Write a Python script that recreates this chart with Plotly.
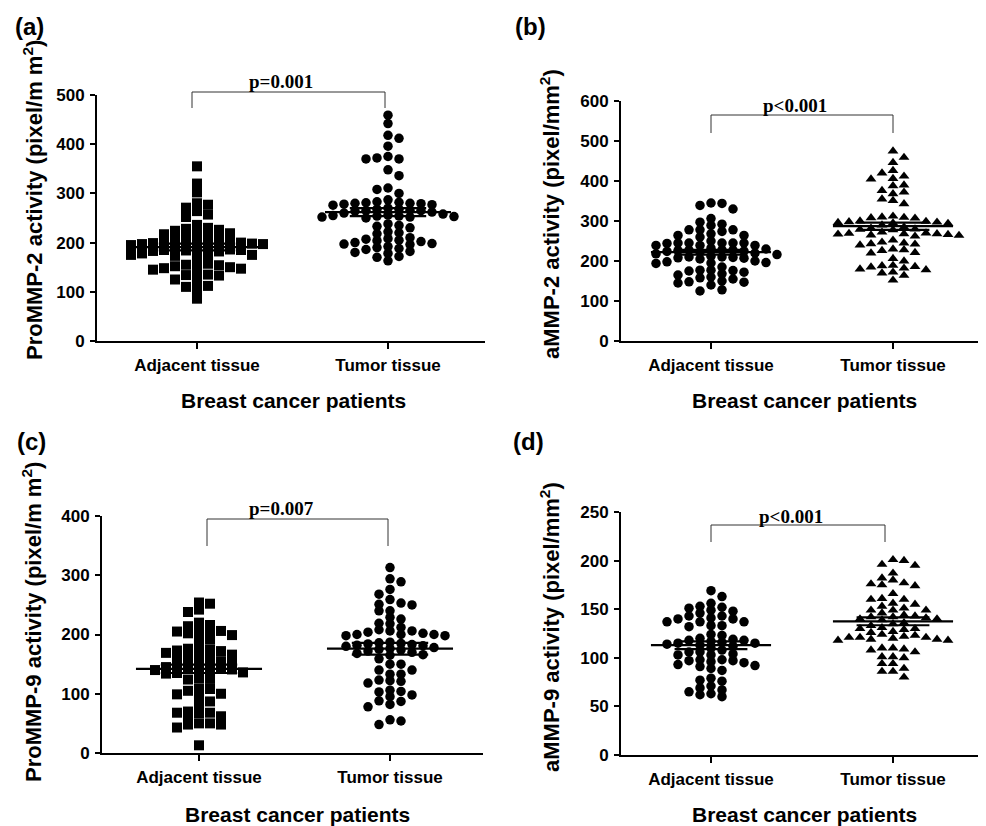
import plotly.graph_objects as go

# target picture size and page offset (browser body margin)
W_REF, H_REF = 986, 826
OFF = 8
W, H = W_REF - OFF, H_REF - OFF

# ---------------- data ----------------
categories = ["Adjacent tissue", "Tumor tissue"]
panel_labels = ["(a)", "(b)", "(c)", "(d)"]
y_titles = [
    "ProMMP-2 activity (pixel/m m<sup>2</sup>)",
    "aMMP-2 activity (pixel/mm<sup>2</sup>)",
    "ProMMP-9 activity (pixel/m m<sup>2</sup>)",
    "aMMP-9 activity (pixel/mm<sup>2</sup>)",
]
x_title = "Breast cancer patients"
p_labels = ["p=0.001", "p<0.001", "p=0.007", "p<0.001"]
y_max = [500, 600, 400, 250]
y_dtick = [100, 100, 100, 50]

a_adjacent = [355, 320, 302, 280, 277, 271, 264, 257, 252, 236, 230, 228, 226, 224, 220,
              219, 217, 216, 212, 210, 208, 206, 204, 202, 200, 200, 199, 198, 198, 197,
              197, 196, 195, 190, 188, 187, 186, 185, 185, 184, 183, 182, 178, 176, 175,
              175, 174, 173, 160, 157, 155, 154, 152, 150, 148, 147, 146, 145, 135, 134,
              133, 130, 125, 115, 112, 110, 100, 86]
a_tumor = [459, 442, 418, 412, 396, 375, 372, 370, 370, 348, 336, 311, 308, 300, 287,
           283, 282, 281, 280, 280, 279, 278, 277, 276, 270, 268, 268, 266, 265, 265,
           264, 262, 260, 258, 256, 255, 254, 254, 253, 252, 252, 250, 238, 235, 233,
           230, 222, 220, 218, 210, 208, 207, 205, 204, 202, 200, 198, 197, 196, 192,
           190, 188, 186, 182, 180, 178, 172, 170, 163]
b_adjacent = [345, 344, 339, 330, 306, 297, 292, 289, 278, 278, 278, 274, 268, 264, 264,
              260, 250, 245, 245, 245, 245, 245, 244, 239, 239, 239, 232, 230, 228, 227,
              227, 226, 225, 224, 222, 220, 218, 216, 212, 210, 210, 209, 208, 207, 205,
              200, 198, 196, 195, 194, 185, 177, 177, 176, 175, 172, 168, 165, 160, 158,
              155, 150, 148, 147, 145, 140, 128, 125]
b_tumor = [475, 459, 446, 426, 420, 412, 406, 405, 390, 388, 376, 372, 368, 355, 351,
           343, 312, 310, 309, 308, 307, 300, 299, 298, 297, 296, 295, 294, 290, 285,
           282, 280, 279, 278, 272, 270, 269, 268, 268, 267, 266, 265, 264, 262, 252,
           247, 245, 243, 242, 240, 230, 228, 226, 221, 220, 206, 200, 189, 188, 186,
           185, 182, 180, 178, 172, 170, 164, 152]
c_adjacent = [254, 252, 242, 238, 220, 216, 214, 207, 206, 205, 205, 202, 199, 196, 192,
              185, 176, 175, 174, 173, 172, 169, 166, 165, 162, 162, 160, 155, 154, 152,
              150, 148, 146, 145, 143, 142, 141, 140, 138, 137, 136, 135, 134, 126, 125,
              124, 109, 108, 105, 100, 99, 94, 87, 78, 70, 68, 68, 67, 62, 59, 50, 50, 48,
              48, 43, 13]
c_tumor = [313, 294, 289, 276, 268, 259, 253, 251, 250, 240, 240, 229, 226, 219, 218,
           212, 208, 206, 206, 204, 202, 200, 200, 200, 198, 198, 187, 186, 185, 184,
           183, 182, 181, 180, 178, 176, 175, 174, 172, 170, 168, 166, 165, 159, 150,
           150, 140, 140, 133, 133, 123, 122, 121, 118, 106, 104, 103, 98, 95, 88, 87,
           82, 78, 56, 54, 48]
d_adjacent = [169, 163, 156, 153, 152, 151, 149, 148, 146, 143, 143, 141, 140, 140, 137,
              137, 137, 133, 133, 132, 124, 123, 120, 119, 118, 118, 117, 116, 115, 115,
              114, 113, 112, 110, 108, 106, 106, 104, 103, 103, 98, 98, 97, 97, 96, 95,
              93, 92, 91, 89, 87, 79, 77, 76, 71, 69, 67, 65, 63, 62, 60]
d_tumor = [201, 200, 196, 195, 187, 182, 180, 177, 176, 175, 174, 166, 161, 160, 160,
           156, 155, 153, 151, 149, 149, 149, 146, 144, 143, 142, 142, 141, 140, 140,
           139, 136, 135, 133, 131, 130, 130, 129, 127, 126, 124, 123, 122, 121, 121,
           121, 120, 119, 119, 118, 118, 110, 110, 109, 108, 106, 101, 101, 100, 94, 94,
           89, 86, 86, 80]

# group means and SEM (horizontal bars)
a_means, a_sems = [191, 262], [7, 8]
b_means, b_sems = [222, 287], [6, 9]
c_means, c_sems = [142, 176], [7, 10]
d_means, d_sems = [113, 137.5], [4, 4]

panel_data = [
    (a_adjacent, a_tumor, a_means, a_sems, "square", "circle"),
    (b_adjacent, b_tumor, b_means, b_sems, "circle", "triangle-up"),
    (c_adjacent, c_tumor, c_means, c_sems, "square", "circle"),
    (d_adjacent, d_tumor, d_means, d_sems, "circle", "triangle-up"),
]

# ---------------- layout geometry (pixels in the reference picture) ----------------
geom = [
    dict(L=97, R=485, c0=197, c1=388, top=95, bot=341,
         lab=(29, 26), yt=(33, 200), xt=(293, 400),
         br=(192, 385, 92, 108), pt=(281, 81)),
    dict(L=621, R=985, c0=711, c1=893, top=101, bot=341,
         lab=(530, 26), yt=(550, 214), xt=(804, 400),
         br=(711, 893, 115, 133), pt=(795, 105)),
    dict(L=102, R=483, c0=199, c1=390, top=516, bot=753,
         lab=(31, 442), yt=(32, 622), xt=(297, 814),
         br=(207, 388, 519, 546), pt=(281, 508)),
    dict(L=621, R=985, c0=711, c1=893, top=512, bot=755,
         lab=(528, 442), yt=(550, 627), xt=(804, 814),
         br=(711, 885, 525, 542), pt=(791, 516)),
]

FONT = "Liberation Sans, Arial, sans-serif"
SERIF = "Liberation Serif, Times New Roman, serif"


def px(x):
    return (x - OFF) / W


def py(y):
    return 1 - (y - OFF) / H


def swarm(values, ppx, ppy, spacing_px=11.0, min_dy=6.5):
    order = sorted(range(len(values)), key=lambda i: -values[i])
    cols = {}
    offs = [0.0] * len(values)
    flip = 1
    for i in order:
        ypx = values[i] * ppy
        step = 0
        chosen = None
        while chosen is None:
            cands = [0] if step == 0 else [flip * step, -flip * step]
            for c in cands:
                if all(abs(ypx - q) >= min_dy for q in cols.get(c, [])):
                    chosen = c
                    break
            step += 1
        if chosen != 0:
            flip = -1 if chosen > 0 else 1
        cols.setdefault(chosen, []).append(ypx)
        offs[i] = chosen * spacing_px / ppx
    return offs


fig = go.Figure()
annotations = []
shapes = []

for k, (g, (adj, tum, means, sems, sym0, sym1)) in enumerate(zip(geom, panel_data)):
    n = "" if k == 0 else str(k + 1)
    xa, ya = "x" + n, "y" + n
    ppx = g["c1"] - g["c0"]
    ppy = (g["bot"] - g["top"]) / y_max[k]
    xr = [(g["L"] - g["c0"]) / ppx, (g["R"] - g["c0"]) / ppx]

    for ci, (vals, sym) in enumerate([(adj, sym0), (tum, sym1)]):
        offs = swarm(vals, ppx, ppy)
        msize = 10 if sym == "square" else 9.5
        fig.add_trace(go.Scatter(
            x=[ci + o for o in offs], y=vals, mode="markers", xaxis=xa, yaxis=ya,
            marker=dict(symbol=sym, size=msize, color="black", line=dict(width=0)),
            showlegend=False, hoverinfo="y"))
        m, s = means[ci], sems[ci]
        fig.add_trace(go.Scatter(
            x=[ci - 0.33, ci + 0.33], y=[m, m], mode="lines", xaxis=xa, yaxis=ya,
            line=dict(color="black", width=2.2), showlegend=False, hoverinfo="skip"))
        for sv in (m - s, m + s):
            fig.add_trace(go.Scatter(
                x=[ci - 0.2, ci + 0.2], y=[sv, sv], mode="lines", xaxis=xa, yaxis=ya,
                line=dict(color="black", width=2.2), showlegend=False, hoverinfo="skip"))

    fig.layout["xaxis" + n] = dict(
        domain=[px(g["L"]), px(g["R"])], range=xr, anchor=ya, automargin=False,
        tickvals=[0, 1], ticktext=categories, ticks="outside", ticklen=6, tickwidth=1.5,
        tickcolor="black", showline=True, linecolor="black", linewidth=2,
        showgrid=False, zeroline=False, fixedrange=True,
        tickfont=dict(family=FONT, size=17, color="black", weight="bold"),
        ticklabelstandoff=2)
    fig.layout["yaxis" + n] = dict(
        domain=[py(g["bot"]), py(g["top"])], range=[0, y_max[k]], anchor=xa, automargin=False,
        dtick=y_dtick[k], tick0=0, ticks="outside", ticklen=5, tickwidth=2,
        tickcolor="black", showline=True, linecolor="black", linewidth=2,
        showgrid=False, zeroline=False, fixedrange=True,
        tickfont=dict(family=FONT, size=17, color="black", weight="bold"),
        ticklabelstandoff=2)

    annotations.append(dict(x=px(g["lab"][0]), y=py(g["lab"][1]), xref="paper", yref="paper",
                            text=panel_labels[k], showarrow=False, xanchor="center", yanchor="middle",
                            font=dict(family=FONT, size=24, color="black", weight="bold")))
    annotations.append(dict(x=px(g["yt"][0]), y=py(g["yt"][1]), xref="paper", yref="paper",
                            text=y_titles[k], showarrow=False, textangle=-90,
                            xanchor="center", yanchor="middle",
                            font=dict(family=FONT, size=22, color="black", weight="bold")))
    annotations.append(dict(x=px(g["xt"][0]), y=py(g["xt"][1]), xref="paper", yref="paper",
                            text=x_title, showarrow=False, xanchor="center", yanchor="middle",
                            font=dict(family=FONT, size=21, color="black", weight="bold")))
    x0b, x1b, ytb, ybb = g["br"]
    shapes.append(dict(type="path", xref="paper", yref="paper",
                       path=f"M {px(x0b)},{py(ybb)} L {px(x0b)},{py(ytb)} L {px(x1b)},{py(ytb)} L {px(x1b)},{py(ybb)}",
                       line=dict(color="#333333", width=1)))
    annotations.append(dict(x=px(g["pt"][0]), y=py(g["pt"][1]), xref="paper", yref="paper",
                            text=p_labels[k], showarrow=False, xanchor="center", yanchor="middle",
                            font=dict(family=SERIF, size=19, color="black", weight="bold")))

fig.update_layout(
    width=W, height=H, margin=dict(l=0, r=0, t=0, b=0, pad=0),
    paper_bgcolor="white", plot_bgcolor="white",
    annotations=annotations, shapes=shapes, showlegend=False)

fig.write_html("out.html")
